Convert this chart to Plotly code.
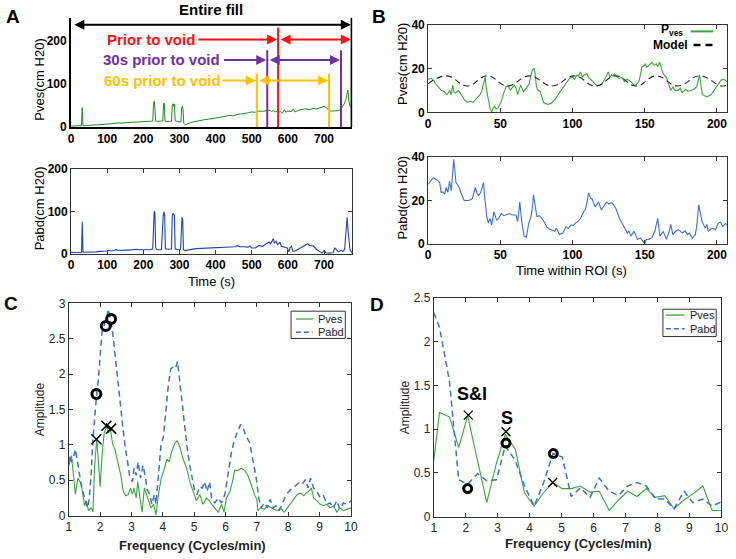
import plotly.graph_objects as go

W, H = 736, 559
FONT = "Arial, Liberation Sans, sans-serif"

# ---------------- Panel A data ----------------
A_ves_t = [0, 5, 10, 15, 20, 25, 29, 30, 31, 32, 33, 40, 50, 60, 70, 80, 90, 100, 110, 120, 130, 140, 150, 160,
           170, 180, 190, 200, 210, 220, 226, 228, 230, 232, 234, 240, 250, 254, 256, 258, 260, 262, 270, 278,
           280, 282, 284, 286, 288, 296, 304, 306, 308, 310, 312, 316, 322, 330, 340, 350, 360, 370, 380, 390,
           400, 410, 420, 430, 440, 450, 460, 470, 480, 490, 500, 510, 520, 530, 540, 550, 555, 560, 565, 570,
           575, 580, 585, 590, 595, 600, 610, 615, 620, 625, 630, 640, 650, 660, 670, 680, 690, 700, 705, 710,
           715, 720, 730, 740, 745, 750, 755, 760, 763, 766, 769, 772, 775, 778]
A_ves = [2, 2, 3, 2, 3, 2, 3, 30, 45, 20, 3, 3, 4, 4, 5, 5, 6, 7, 7, 8, 9, 9, 10, 10,
         11, 11, 12, 12, 13, 13, 14, 50, 60, 45, 14, 13, 13, 14, 54, 56, 14, 12, 13, 13,
         50, 54, 48, 53, 14, 12, 11, 44, 48, 40, 8, 5, 8, 10, 12, 14, 15, 17, 18, 19,
         20, 22, 24, 25, 27, 26, 29, 30, 31, 33, 35, 34, 37, 36, 38, 39, 36, 38, 35, 37,
         34, 36, 32, 40, 34, 37, 36, 42, 35, 38, 39, 41, 42, 40, 43, 42, 45, 48, 46, 41,
         38, 37, 37, 38, 40, 46, 52, 62, 75, 86, 60, 48, 45, 44]

A_abd_t = [0, 5, 10, 15, 20, 25, 29, 30, 31, 32, 33, 40, 50, 60, 70, 80, 90, 100, 105, 110, 120, 125, 130, 140,
           150, 160, 170, 175, 180, 190, 200, 210, 220, 226, 228, 230, 232, 234, 238, 250, 255, 257, 259, 261,
           270, 278, 280, 282, 284, 286, 288, 296, 303, 305, 307, 309, 311, 316, 325, 340, 360, 380, 400, 420,
           440, 455, 460, 465, 480, 490, 495, 500, 510, 520, 530, 540, 548, 552, 556, 560, 563, 567, 572, 578,
           582, 590, 598, 603, 606, 610, 614, 620, 630, 640, 650, 655, 660, 665, 670, 680, 690, 695, 700, 705,
           715, 725, 730, 735, 740, 748, 752, 757, 760, 762, 764, 766, 768, 770, 772, 775, 778]
A_abd = [5, 3, 4, 3, 4, 3, 4, 40, 76, 45, 4, 4, 5, 5, 5, 6, 6, 7, 9, 7, 8, 10, 8, 9,
         9, 9, 10, 12, 11, 10, 10, 10, 10, 12, 90, 100, 98, 15, 10, 10, 90, 99, 92, 12,
         11, 12, 90, 95, 93, 90, 12, 10, 11, 80, 86, 80, 10, 8, 10, 12, 13, 14, 15, 16,
         16, 17, 20, 17, 17, 16, 19, 14, 14, 20, 18, 24, 28, 24, 30, 36, 25, 30, 22, 27,
         18, 16, 14, 5, 15, 18, 6, 7, 12, 18, 22, 24, 20, 20, 19, 10, 5, 2, 8, 3,
         2, 3, 14, 8, 5, 9, 6, 10, 50, 70, 86, 60, 30, 25, 10, 4, 2]

WIN_LABELS = ["Prior to void", "30s prior to void", "60s prior to void"]
WIN_COLORS = ["#ff1010", "#7030a0", "#ffc000"]
WIN_START = [573, 543, 514]
WIN_END = [777, 747, 714]
WIN_LINE_TOP = [232, 179, 124]
WIN_ARROW_Y = [204, 156, 108]
WIN_LABEL_T = [221, 251, 253]
WIN_POINTER_TAIL = [348, 419, 416]
FILL_START, FILL_END, FILL_ARROW_Y, FILL_TOP = 0, 777, 238, 255

# ---------------- Panel B data ----------------
B_ves_t = [0, 2, 4, 5, 7, 9, 11, 13, 15, 16, 17, 18, 19, 21, 22, 24, 25, 27, 29, 31, 33, 34, 36, 37, 38, 39.5,
           40.5, 42, 43, 44, 45, 46, 47, 48.4, 49.5, 50.7, 52, 54, 55.5, 57, 58, 59.6, 61, 62, 63, 64, 65, 66,
           68, 70, 71, 72, 73.5, 74, 75, 76, 77.6, 79, 80, 81.5, 83, 85, 86.5, 88, 90, 91.5, 93, 95, 96.6, 98,
           100, 101.5, 103, 104, 105.6, 107, 108, 110, 111, 112, 114, 115.7, 117, 119, 120.5, 122, 123, 124.7,
           126, 127, 128, 129, 131, 132.5, 134, 136, 137.5, 139, 141, 142.6, 144, 146, 147, 148, 149, 150.4,
           151.5, 152.7, 154, 155, 156.5, 158, 159, 160.5, 161.5, 162.8, 164, 165, 166, 168, 169.5, 171, 173,
           174.5, 176, 177, 178.5, 180, 182, 184, 186, 187, 188, 189, 190, 191.5, 193, 194.5, 196, 198, 200,
           201.5, 203, 205, 207]
B_ves = [15, 15.5, 14.5, 13, 11.7, 10, 9.5, 8, 10, 8, 12.4, 9, 8.7, 10, 9, 7, 5.8, 4.5, 5, 4.5, 6, 6.5, 8, 9.5, 12, 16,
         10, 5, 1.3, 0, 2, 2.8, 1.5, 2, 3.5, 5, 8, 11.7, 12, 10, 11, 12.4, 11, 8, 10, 12.4, 11, 9.5,
         11, 13, 16, 19, 20, 18, 11.7, 10, 9.5, 7, 4.3, 4, 3.6, 4, 5, 6, 8, 9.5, 11, 13, 14.7, 15.5,
         16, 15, 17, 16.5, 18.4, 16, 17, 17.6, 16, 15.4, 14, 13, 12, 12.4, 13, 14.7, 16, 18.4,
         16, 17, 16.5, 17.6, 16, 15.4, 16, 14, 15, 14.7, 13.5, 12.4, 12.5, 14, 17, 20.6, 21, 22,
         20.5, 21.3, 22, 22.8, 21.5, 22, 21, 22.8, 20, 17.6, 16.5, 16, 14, 10, 11.5, 10, 10,
         11, 9, 9.5, 10.5, 9.5, 10, 10.5, 11.7, 14, 17, 12, 8, 7.5, 7, 7.5, 8, 10, 11.7,
         13.5, 14.7, 15, 14]
B_model_t = [0, 13, 27, 41, 55, 70, 86, 101, 116, 130, 144, 158, 173, 188, 203, 207]
B_model = [13, 16.6, 12, 16.6, 12, 16.6, 12, 16.6, 12, 16.6, 12, 16.6, 12, 16.6, 12, 12.5]

B_abd_t = [0, 1.5, 3.6, 6, 8, 9, 10.2, 11.4, 12.6, 13.7, 14.8, 16, 17.7, 19.3, 21.5, 23, 25, 26.5, 28, 30.5, 32.7,
           34, 35, 36.5, 38.3, 39.5, 40.5, 41.7, 42.8, 44, 45.5, 46.5, 47.3, 49, 50.7, 52.5, 54, 56.3, 58.5,
           60.8, 62, 63.5, 64.8, 66.4, 68, 69.7, 71, 72, 73, 74.2, 75.3, 77, 78.7, 80.5, 82, 83.7, 85.4, 87.7,
           88.8, 90, 91, 93.3, 95.5, 97, 98.9, 100.5, 102, 104, 105.6, 107.8, 109, 110, 111.2, 112.5, 113.5,
           115.7, 117, 118, 120, 121.5, 123.5, 125, 127, 128.5, 130, 132.5, 134, 136, 138, 139, 140.4, 142.6,
           145, 147, 148.5, 150, 151, 152.7, 155, 157, 159, 160.5, 161.5, 162.8, 165, 167, 168, 169.5, 171,
           173, 174.5, 176, 178, 179.6, 181, 183, 185, 186, 187.4, 188.5, 189.7, 191, 192, 193, 194, 196,
           197.5, 199, 201, 202.5, 204, 206, 207]
B_abd = [27.5, 29, 30.5, 29.5, 28.3, 23.8, 24, 23, 26, 23.8, 29, 24.5, 39, 28.3, 26, 23, 20, 20, 20, 20.8, 26,
         23, 22.3, 23.8, 28.3, 19.3, 13, 9.6, 11.8, 8.8, 14.8, 13, 11, 12, 14, 13, 13.3, 14, 13.3,
         13.3, 10.3, 19.3, 10.3, 3.6, 3.1, 9.6, 12, 15.6, 22.6, 17.8, 12.6, 13, 11.8, 10, 8, 7, 6.6, 5.8,
         7.3, 5.5, 4.3, 5, 8, 7, 8.8, 8.5, 9.6, 10.5, 11.8, 14.8, 16, 19.3, 23.5, 21, 20.8,
         17, 18, 19.3, 15.6, 17, 19.3, 18.5, 19, 18, 16.3, 11.8, 10, 8, 5, 6, 3.6, 5.8,
         2.1, 2.8, 1.5, 0, 2, 2.1, 2.8, 5.8, 11.8, 3.6, 4.5, 5.8, 2.1, 5.8, 9, 4.3, 5.5,
         6.6, 6, 5, 6, 4.3, 5, 2.5, 4.3, 8, 18, 14, 10.3, 8.5, 7.3, 9, 5.8, 7,
         7.3, 6.5, 9.6, 10, 8, 9.5, 8.5]

# ---------------- Panel C data ----------------
C_ves_f = [1.0, 1.03, 1.08, 1.14, 1.21, 1.29, 1.38, 1.45, 1.5, 1.56, 1.63, 1.71, 1.77, 1.82, 1.89, 1.94, 2.0,
           2.06, 2.13, 2.21, 2.27, 2.32, 2.40, 2.47, 2.55, 2.66, 2.74, 2.82, 2.90, 2.97, 3.03, 3.08, 3.15,
           3.20, 3.27, 3.34, 3.41, 3.48, 3.55, 3.62, 3.71, 3.78, 3.86, 3.95, 4.02, 4.13, 4.20, 4.28, 4.39,
           4.46, 4.55, 4.65, 4.76, 4.86, 4.97, 5.07, 5.18, 5.28, 5.39, 5.49, 5.56, 5.66, 5.77, 5.87, 5.95,
           6.03, 6.14, 6.22, 6.29, 6.40, 6.50, 6.61, 6.71, 6.82, 6.92, 7.0, 7.03, 7.13, 7.24, 7.34, 7.45,
           7.55, 7.66, 7.76, 7.87, 7.97, 8.08, 8.18, 8.29, 8.39, 8.50, 8.57, 8.65, 8.74, 8.81, 8.92, 9.02,
           9.13, 9.23, 9.34, 9.44, 9.55, 9.65, 9.76, 9.86, 10.0]
C_ves = [0.70, 0.78, 0.85, 0.62, 0.30, 0.53, 0.46, 0.30, 0.14, 0.21, 0.07, 0.11, 0.05, 0.67, 1.08, 0.80, 0.41,
         0.85, 1.17, 1.26, 1.17, 1.24, 1.01, 0.94, 0.80, 0.57, 0.34, 0.28, 0.30, 0.39, 0.30, 0.39, 0.25,
         0.48, 0.25, 0.05, 0.39, 0.30, 0.21, 0.11, 0.16, 0.01, 0.30, 0.53, 0.62, 0.80, 0.76, 0.90, 1.03,
         1.06, 0.96, 0.80, 0.67, 0.48, 0.34, 0.21, 0.30, 0.16, 0.25, 0.21, 0.16, 0.11, 0.05, 0.16, 0.05,
         0.25, 0.34, 0.48, 0.64, 0.64, 0.67, 0.64, 0.57, 0.44, 0.30, 0.23, 0.07, 0.11, 0.09, 0.14, 0.11,
         0.09, 0.07, 0.11, 0.05, 0.11, 0.18, 0.25, 0.30, 0.32, 0.28, 0.32, 0.34, 0.39, 0.25, 0.21, 0.16,
         0.14, 0.16, 0.11, 0.14, 0.05, 0.11, 0.07, 0.09, 0.11]
C_abd_f = [1.0, 1.03, 1.08, 1.14, 1.21, 1.29, 1.38, 1.45, 1.52, 1.59, 1.65, 1.71, 1.77, 1.84, 1.89, 1.94, 2.0,
           2.06, 2.13, 2.22, 2.26, 2.32, 2.40, 2.47, 2.55, 2.64, 2.71, 2.78, 2.87, 2.94, 3.03, 3.08, 3.15,
           3.21, 3.29, 3.37, 3.44, 3.50, 3.58, 3.65, 3.73, 3.78, 3.86, 3.94, 4.02, 4.11, 4.18, 4.25, 4.34,
           4.41, 4.47, 4.55, 4.63, 4.70, 4.78, 4.86, 4.95, 5.02, 5.09, 5.18, 5.26, 5.33, 5.41, 5.49, 5.56,
           5.66, 5.77, 5.87, 5.98, 6.08, 6.19, 6.29, 6.40, 6.48, 6.56, 6.66, 6.77, 6.87, 6.98, 7.06, 7.13,
           7.24, 7.34, 7.42, 7.52, 7.61, 7.71, 7.82, 7.94, 8.08, 8.21, 8.34, 8.44, 8.55, 8.63, 8.71, 8.81,
           8.92, 9.02, 9.13, 9.23, 9.34, 9.44, 9.55, 9.65, 9.76, 9.86, 10.0]
C_abd = [0.75, 0.85, 0.76, 0.80, 0.94, 0.71, 0.48, 0.34, 0.21, 0.11, 0.23, 0.57, 1.08, 1.49, 1.72, 1.91, 2.23,
         2.59, 2.69, 2.82, 2.92, 2.80, 2.59, 2.32, 2.00, 1.63, 1.31, 1.03, 0.76, 0.57, 0.48, 0.67, 0.57,
         0.76, 0.53, 0.71, 0.55, 0.37, 0.30, 0.16, 0.30, 0.16, 0.57, 0.99, 1.12, 1.54, 1.86, 2.07, 2.11,
         2.09, 2.18, 1.86, 1.54, 1.22, 0.94, 0.71, 0.48, 0.34, 0.30, 0.41, 0.39, 0.48, 0.34, 0.48, 0.23,
         0.18, 0.25, 0.18, 0.30, 0.57, 0.90, 1.08, 1.22, 1.29, 1.24, 1.12, 1.03, 0.80, 0.53, 0.25, 0.11,
         0.18, 0.11, 0.23, 0.11, 0.14, 0.07, 0.18, 0.30, 0.37, 0.41, 0.46, 0.44, 0.51, 0.39, 0.53, 0.39,
         0.34, 0.25, 0.28, 0.16, 0.18, 0.11, 0.21, 0.09, 0.18, 0.16, 0.21]
C_circ_f = [1.88, 2.18, 2.35]
C_circ_a = [1.72, 2.68, 2.78]
C_x_f = [1.88, 2.20, 2.35]
C_x_a = [1.08, 1.27, 1.23]

# ---------------- Panel D data ----------------
D_f = [1.0, 1.18, 1.49, 1.78, 2.06, 2.37, 2.66, 2.96, 3.24, 3.55, 3.84, 4.14, 4.43, 4.73, 5.02, 5.30, 5.59,
       5.89, 6.18, 6.49, 6.78, 7.07, 7.36, 7.65, 7.94, 8.23, 8.52, 8.83, 9.11, 9.42, 9.71, 10.0]
D_ves = [0.64, 1.19, 1.14, 0.79, 1.15, 0.64, 0.16, 0.61, 0.94, 0.77, 0.27, 0.12, 0.27, 0.39, 0.32, 0.32, 0.35,
         0.28, 0.29, 0.07, 0.19, 0.29, 0.23, 0.32, 0.22, 0.24, 0.09, 0.19, 0.26, 0.35, 0.07, 0.07]
D_abd = [2.33, 2.16, 1.55, 0.42, 0.37, 0.49, 0.41, 0.42, 0.81, 0.64, 0.35, 0.12, 0.38, 0.72, 0.68, 0.23, 0.33,
         0.22, 0.44, 0.29, 0.24, 0.35, 0.39, 0.35, 0.20, 0.20, 0.09, 0.29, 0.16, 0.20, 0.12, 0.17]
D_circ_f = [2.06, 3.26, 4.74]
D_circ_a = [0.32, 0.84, 0.72]
D_x_f = [2.08, 3.26, 4.72]
D_x_a = [1.16, 0.97, 0.39]
D_labels = ["S&I", "S"]
D_label_f = [2.21, 3.28]
D_label_a = [1.40, 1.13]

SERIES_NAMES = ["Pves", "Pabd"]


def dom_x(a, b):
    return [a / W, b / W]


def dom_y(top, bottom):
    return [1 - bottom / H, 1 - top / H]


GREEN_A = "#1f8a1f"
BLUE_A = "#1f45b8"
GREEN = "#3aa53a"
BLUE = "#3c6fd1"
DASH = "6px,4px"

fig = go.Figure()

# Panel A
fig.add_trace(go.Scatter(x=A_ves_t, y=A_ves, mode="lines", line=dict(color=GREEN_A, width=1),
                         xaxis="x", yaxis="y"))
fig.add_trace(go.Scatter(x=A_abd_t, y=A_abd, mode="lines", line=dict(color=BLUE_A, width=1.1),
                         xaxis="x2", yaxis="y2"))
# Panel B
fig.add_trace(go.Scatter(x=B_ves_t, y=B_ves, mode="lines", line=dict(color=GREEN, width=1.1),
                         xaxis="x3", yaxis="y3"))
fig.add_trace(go.Scatter(x=B_model_t, y=B_model, mode="lines",
                         line=dict(color="#222222", width=1.1, dash=DASH, shape="spline", smoothing=1.3),
                         xaxis="x3", yaxis="y3"))
fig.add_trace(go.Scatter(x=B_abd_t, y=B_abd, mode="lines", line=dict(color=BLUE, width=1.1),
                         xaxis="x4", yaxis="y4"))
# Panel C
fig.add_trace(go.Scatter(x=C_ves_f, y=C_ves, mode="lines", name=SERIES_NAMES[0], line=dict(color=GREEN, width=1.1),
                         xaxis="x5", yaxis="y5"))
fig.add_trace(go.Scatter(x=C_abd_f, y=C_abd, mode="lines", name=SERIES_NAMES[1],
                         line=dict(color=BLUE, width=1.5, dash=DASH), xaxis="x5", yaxis="y5"))
fig.add_trace(go.Scatter(x=C_circ_f, y=C_circ_a, mode="markers",
                         marker=dict(symbol="circle-open", size=9, color="black", line=dict(width=3)),
                         xaxis="x5", yaxis="y5"))
fig.add_trace(go.Scatter(x=C_x_f, y=C_x_a, mode="markers",
                         marker=dict(symbol="x-thin-open", size=10, color="black", line=dict(width=1.5)),
                         xaxis="x5", yaxis="y5"))
# Panel D
fig.add_trace(go.Scatter(x=D_f, y=D_ves, mode="lines", name=SERIES_NAMES[0], line=dict(color=GREEN, width=1.1),
                         xaxis="x6", yaxis="y6"))
fig.add_trace(go.Scatter(x=D_f, y=D_abd, mode="lines", name=SERIES_NAMES[1],
                         line=dict(color=BLUE, width=1.5, dash=DASH), xaxis="x6", yaxis="y6"))
fig.add_trace(go.Scatter(x=D_circ_f, y=D_circ_a, mode="markers",
                         marker=dict(symbol="circle-open", size=8, color="black", line=dict(width=3)),
                         xaxis="x6", yaxis="y6"))
fig.add_trace(go.Scatter(x=D_x_f, y=D_x_a, mode="markers",
                         marker=dict(symbol="x-thin-open", size=9, color="black", line=dict(width=1.3)),
                         xaxis="x6", yaxis="y6"))

bold_tick = dict(family=FONT, size=12, color="black", weight="bold")
thin_tick = dict(family=FONT, size=12, color="#262626")

common_box = dict(showline=True, linecolor="#333333", linewidth=1, mirror="ticks", ticks="inside",
                  ticklen=4, tickcolor="#333333", showgrid=False, zeroline=False)

layout = dict(
    width=W, height=H, margin=dict(l=0, r=0, t=0, b=0), showlegend=False,
    paper_bgcolor="white", plot_bgcolor="white",
    font=dict(family=FONT, color="black"),
    # A top
    xaxis=dict(domain=dom_x(69, 354), anchor="y", range=[0, 778], tickvals=[0, 100, 200, 300, 400, 500, 600, 700],
               showline=True, linecolor="black", linewidth=2, ticks="", showgrid=False, zeroline=False,
               tickfont=bold_tick),
    yaxis=dict(domain=dom_y(10.8, 123), anchor="x", range=[0, 255], tickvals=[0, 100, 200],
               showline=True, linecolor="black", linewidth=2, ticks="", showgrid=False, zeroline=False,
               tickfont=bold_tick),
    # A bottom
    xaxis2=dict(domain=dom_x(69, 354), anchor="y2", range=[0, 778], tickvals=[0, 100, 200, 300, 400, 500, 600, 700],
                tickfont=bold_tick, **common_box),
    yaxis2=dict(domain=dom_y(166, 253.3), anchor="x2", range=[0, 200], tickvals=[0, 100, 200],
                tickfont=bold_tick, **common_box),
    # B top
    xaxis3=dict(domain=dom_x(431, 734), anchor="y3", range=[0, 207], tickvals=[0, 50, 100, 150, 200],
                tickfont=bold_tick, **common_box),
    yaxis3=dict(domain=dom_y(18, 108), anchor="x3", range=[0, 40], tickvals=[0, 20, 40],
                tickfont=bold_tick, **common_box),
    # B bottom
    xaxis4=dict(domain=dom_x(431, 734), anchor="y4", range=[0, 207], tickvals=[0, 50, 100, 150, 200],
                tickfont=bold_tick, **common_box),
    yaxis4=dict(domain=dom_y(154, 243), anchor="x4", range=[0, 40], tickvals=[0, 20, 40],
                tickfont=bold_tick, **common_box),
    # C
    xaxis5=dict(domain=dom_x(66.7, 352.7), anchor="y5", range=[1, 10], dtick=1,
                tickfont=thin_tick, **common_box),
    yaxis5=dict(domain=dom_y(304, 521.7), anchor="x5", range=[0, 3], dtick=0.5,
                tickfont=thin_tick, **common_box),
    # D
    xaxis6=dict(domain=dom_x(436.7, 728.3), anchor="y6", range=[1, 10], dtick=1,
                tickfont=thin_tick, **common_box),
    yaxis6=dict(domain=dom_y(298.3, 522.7), anchor="x6", range=[0, 2.5], dtick=0.5,
                tickfont=thin_tick, **common_box),
)
fig.update_layout(**layout)

shapes = []
annotations = []


def ptext(text, x, y, size=13, weight="normal", color="black", angle=0, xanchor="center"):
    annotations.append(dict(x=x / W, y=1 - y / H, xref="paper", yref="paper", text=text, textangle=angle,
                            xanchor=xanchor, yanchor="middle", showarrow=False,
                            font=dict(family=FONT, size=size, color=color, weight=weight)))


def pline(x0, x1, y, color, width, dash="solid"):
    shapes.append(dict(type="line", xref="paper", yref="paper", x0=x0 / W, x1=x1 / W, y0=1 - y / H, y1=1 - y / H,
                       line=dict(color=color, width=width, dash=dash)))


# Panel A: window marker lines and arrows
shapes.append(dict(type="line", xref="x", yref="y", x0=FILL_END, x1=FILL_END, y0=0, y1=FILL_TOP,
                   line=dict(color="black", width=2.5)))
for i in range(3):
    shapes.append(dict(type="line", xref="x", yref="y", x0=WIN_START[i], x1=WIN_START[i], y0=0,
                       y1=WIN_LINE_TOP[i], line=dict(color=WIN_COLORS[i], width=2)))
    if WIN_END[i] != FILL_END:
        shapes.append(dict(type="line", xref="x", yref="y", x0=WIN_END[i], x1=WIN_END[i], y0=0,
                           y1=WIN_LINE_TOP[i], line=dict(color=WIN_COLORS[i], width=2)))
    annotations.append(dict(x=WIN_END[i], y=WIN_ARROW_Y[i], ax=WIN_START[i], ay=WIN_ARROW_Y[i],
                            xref="x", yref="y", axref="x", ayref="y", text="", showarrow=True,
                            arrowhead=2, arrowside="end+start", arrowsize=1, arrowwidth=2,
                            arrowcolor=WIN_COLORS[i], standoff=1, startstandoff=1))
    annotations.append(dict(x=WIN_START[i], y=WIN_ARROW_Y[i], ax=WIN_POINTER_TAIL[i], ay=WIN_ARROW_Y[i],
                            xref="x", yref="y", axref="x", ayref="y", text="", showarrow=True,
                            arrowhead=2, arrowsize=1, arrowwidth=2, arrowcolor=WIN_COLORS[i], standoff=1))
    annotations.append(dict(x=WIN_LABEL_T[i], y=WIN_ARROW_Y[i], xref="x", yref="y", text=WIN_LABELS[i],
                            xanchor="center", yanchor="middle", showarrow=False,
                            font=dict(family=FONT, size=15, color=WIN_COLORS[i], weight="bold")))

annotations.append(dict(x=FILL_END, y=FILL_ARROW_Y, ax=FILL_START + 2, ay=FILL_ARROW_Y, xref="x", yref="y",
                        axref="x", ayref="y", text="", showarrow=True, arrowhead=2, arrowside="end+start",
                        arrowsize=1, arrowwidth=2, arrowcolor="black", standoff=1, startstandoff=1))
annotations.append(dict(x=(FILL_START + FILL_END) / 2, y=FILL_ARROW_Y, xref="x", yref="y",
                        yshift=5, xanchor="center", yanchor="bottom",
                        text="Entire fill", showarrow=False,
                        font=dict(family=FONT, size=15, color="black", weight="bold")))

# Panel B legend (text then line sample)
ptext("P<sub>ves</sub>", 691, 24, 12, "bold", xanchor="right")
ptext("Model", 696, 39, 12, "bold", xanchor="right")
pline(697, 720, 25, GREEN, 2)
pline(700, 722, 39, "black", 2.5, "7px,5px")

# Panel C / D legends (boxed)
for (bx0, bx1, by0, by1, lx0, lx1, tx, ys) in [(292, 347, 312, 340, 297, 314, 317, (320, 333.5)),
                                               (669, 723, 310, 338, 672, 691, 694, (316, 330))]:
    shapes.append(dict(type="rect", xref="paper", yref="paper", x0=bx0 / W, x1=bx1 / W, y0=1 - by1 / H,
                       y1=1 - by0 / H, line=dict(color="#333333", width=1), fillcolor="white"))
    pline(lx0, lx1, ys[0], GREEN, 1.3)
    pline(lx0, lx1, ys[1], BLUE, 1.5, "5px,3px")
    ptext(SERIES_NAMES[0], tx, ys[0], 11, color="#222222", xanchor="left")
    ptext(SERIES_NAMES[1], tx, ys[1], 11, color="#222222", xanchor="left")

# Panel D labels
for lab, f, a in zip(D_labels, D_label_f, D_label_a):
    annotations.append(dict(x=f, y=a, xref="x6", yref="y6", text=lab, showarrow=False,
                            xanchor="center", yanchor="middle",
                            font=dict(family=FONT, size=18, color="black", weight="bold")))

# Axis titles
ptext("Pves(cm H20)", 37, 74, angle=-90)
ptext("Pabd(cm H20)", 37, 206, angle=-90)
ptext("Pves(cm H20)", 405, 58, angle=-90)
ptext("Pabd(cm H20)", 405, 195, angle=-90)
ptext("Amplitude", 37, 412, 12, color="#262626", angle=-90)
ptext("Amplitude", 407, 410, 12, color="#262626", angle=-90)
ptext("Time (s)", 211, 282)
ptext("Time within ROI (s)", 576, 270)
ptext("Frequency (Cycles/min)", 192, 552, 13, "bold", "#222222")
ptext("Frequency (Cycles/min)", 583, 550, 13, "bold", "#222222")

# Panel letters
for letter, x, y in [("A", 10, 10), ("B", 381, 10), ("C", 8, 304), ("D", 379, 305)]:
    ptext(letter, x, y, 19, "bold")

fig.update_layout(shapes=shapes, annotations=annotations)
fig.write_html("out.html", config={"displayModeBar": False},
               post_script="document.body.style.margin='0';document.body.style.padding='0';")
